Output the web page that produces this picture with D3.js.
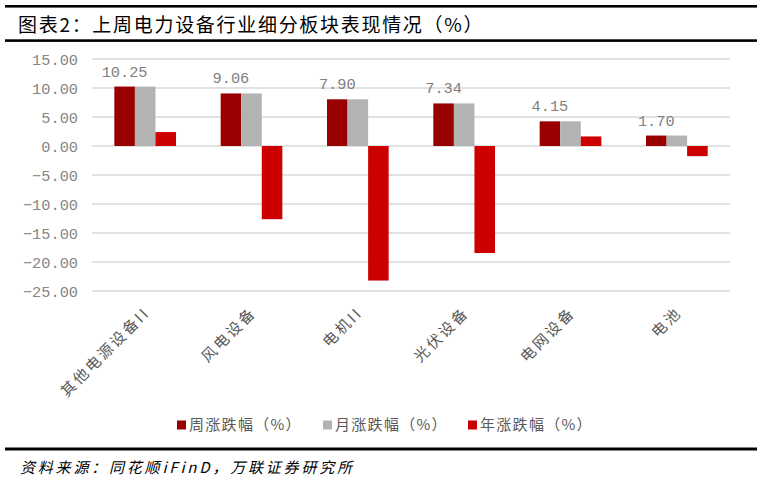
<!DOCTYPE html>
<html lang="zh">
<head>
<meta charset="UTF-8">
<title>上周电力设备行业细分板块表现情况</title>
<script src="https://d3js.org/d3.v7.min.js"></script>
<style>
  body { margin: 0; background: #fff; }
  svg text { font-family: "Noto Sans CJK SC", sans-serif; }
  .num { font-family: "Liberation Mono", "DejaVu Sans Mono", monospace; }
</style>
</head>
<body>
<div id="chart"></div>
<script>
// chart data
const categories = ["其他电源设备II", "风电设备", "电机II", "光伏设备", "电网设备", "电池"];
const seriesNames = ["周涨跌幅（%）", "月涨跌幅（%）", "年涨跌幅（%）"];
const weekChange  = [10.25, 9.06, 8.05, 7.34, 4.25, 1.80];
const monthChange = [10.25, 9.06, 8.05, 7.34, 4.25, 1.80];
const yearChange  = [2.40, -12.62, -23.20, -18.45, 1.65, -1.75];
const weekLabels  = ["10.25", "9.06", "7.90", "7.34", "4.15", "1.70"];
const yTicks = [15, 10, 5, 0, -5, -10, -15, -20, -25];

const colors = ["#990000", "#b3b3b3", "#cc0000"];
const width = 766, height = 481;

const svg = d3.select("#chart").append("svg")
  .attr("width", width)
  .attr("height", height);

svg.append("rect").attr("width", width).attr("height", height).attr("fill", "#fff");

// title block with heavy rules
svg.append("rect").attr("x", 5).attr("y", 5).attr("width", 752).attr("height", 2.6).attr("fill", "#000");
svg.append("text")
  .attr("x", 18).attr("y", 32)
  .attr("font-size", 19).attr("letter-spacing", "1.7px")
  .attr("fill", "#000")
  .text("图表2：上周电力设备行业细分板块表现情况（%）");
svg.append("rect").attr("x", 5).attr("y", 39.3).attr("width", 752).attr("height", 2.6).attr("fill", "#000");

// scales
const x0 = d3.scaleBand().domain(categories).range([92, 730]).paddingInner(0.42).paddingOuter(0.21);
const x1 = d3.scaleBand().domain(seriesNames).range([0, x0.bandwidth()]);
const y = d3.scaleLinear().domain([-25, 15]).range([291, 59]);

// gridlines + tick labels
svg.append("g").selectAll("line").data(yTicks).join("line")
  .attr("x1", 92).attr("x2", 730)
  .attr("y1", d => y(d)).attr("y2", d => y(d))
  .attr("stroke", "#d9d9d9").attr("stroke-width", 1.5);

svg.append("g").selectAll("text").data(yTicks).join("text")
  .attr("class", "num")
  .attr("x", 78).attr("y", d => y(d))
  .attr("dy", "0.36em")
  .attr("text-anchor", "end")
  .attr("font-size", 15.3)
  .attr("fill", "#858585")
  .text(d => d3.format(".2f")(d));

// bars
const rows = categories.map((c, i) => ({
  cat: c,
  vals: [weekChange[i], monthChange[i], yearChange[i]]
}));

const groups = svg.append("g").selectAll("g").data(rows).join("g")
  .attr("transform", d => `translate(${x0(d.cat)},0)`);

groups.selectAll("rect")
  .data(d => d.vals.map((v, j) => ({ s: seriesNames[j], v: v, j: j })))
  .join("rect")
  .attr("x", d => x1(d.s))
  .attr("width", x1.bandwidth())
  .attr("y", d => y(Math.max(0, d.v)))
  .attr("height", d => Math.abs(y(d.v) - y(0)))
  .attr("fill", d => colors[d.j]);

// data labels on the weekly series
svg.append("g").selectAll("text").data(rows).join("text")
  .attr("class", "num")
  .attr("x", (d, i) => x0(d.cat) + x1(seriesNames[0]) + x1.bandwidth() / 2)
  .attr("y", (d, i) => y(weekChange[i]) - 10)
  .attr("text-anchor", "middle")
  .attr("font-size", 15.3)
  .attr("fill", "#808080")
  .text((d, i) => weekLabels[i]);

// rotated category labels
svg.append("g").selectAll("text").data(categories).join("text")
  .attr("transform", d => `translate(${x0(d) + x0.bandwidth() / 2 + 2},${310}) rotate(-45)`)
  .attr("text-anchor", "end")
  .attr("dy", "0.35em")
  .attr("font-size", 15)
  .attr("letter-spacing", "2.5px")
  .attr("fill", "#595959")
  .text(d => d);

// legend
const legendX = [177, 323, 468];
const legend = svg.append("g").selectAll("g").data(seriesNames).join("g")
  .attr("transform", (d, i) => `translate(${legendX[i]},425)`);
legend.append("rect")
  .attr("x", 0).attr("y", -4.5).attr("width", 9).attr("height", 9)
  .attr("fill", (d, i) => colors[i]);
legend.append("text")
  .attr("x", 12).attr("dy", "0.36em")
  .attr("font-size", 15)
  .attr("letter-spacing", "1.3px")
  .attr("fill", "#595959")
  .text(d => d);

// source footer
svg.append("rect").attr("x", 5).attr("y", 447.5).attr("width", 752).attr("height", 3).attr("fill", "#000");
svg.append("text")
  .attr("x", 20).attr("y", 473)
  .attr("font-size", 15).attr("font-style", "italic")
  .attr("letter-spacing", "2.8px")
  .attr("fill", "#000")
  .text("资料来源：同花顺iFinD，万联证券研究所");
</script>
</body>
</html>
